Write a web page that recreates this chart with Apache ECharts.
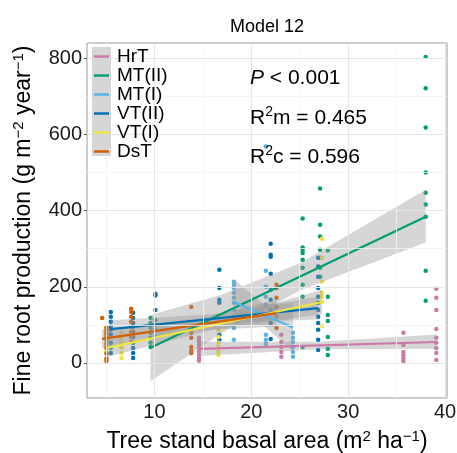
<!DOCTYPE html>
<html>
<head>
<meta charset="utf-8">
<script src="https://cdn.jsdelivr.net/npm/echarts@6/dist/echarts.min.js"></script>
<style>
  html, body { margin: 0; padding: 0; background: #fff; }
  #chart { width: 457px; height: 453px; }
</style>
</head>
<body>
<div id="chart"></div>
<script>
// groups, in legend order
const groups = ['HrT', 'MT(II)', 'MT(I)', 'VT(II)', 'VT(I)', 'DsT'];
const groupColors = ['#CC79A7', '#009E73', '#56B4E9', '#0072B2', '#F0E442', '#D55E00'];

// observed points: one x per stand, y values measured in that stand
const hrtX = [14.6, 23.1, 35.7, 39.1];
const hrtY = [[66, 58, 50, 40, 30, 20, 12, 6], [74, 55, 42, 29, 16], [79, 47, 29, 21, 13, 5],
  [195, 171, 139, 89, 66, 53, 39, 26, 8]];
const mt2X = [9.6, 25.3, 27.1, 27.9, 38.0];
const mt2Y = [[118, 105, 92, 79, 66, 53, 42], [379, 303, 297, 289, 271, 250, 205, 174, 42],
  [458, 363, 332, 297, 276, 250, 226], [295, 174, 126, 110, 68, 37, 21],
  [803, 721, 618, 500, 447, 416, 384, 242, 163]];
const mt1X = [18.2, 21.5, 24.3];
const mt1Y = [[213, 205, 197, 184, 171, 158, 139, 121, 92, 61], [568, 242, 200, 174, 153, 74, 61, 50],
  [79, 66, 55, 42, 29, 16]];
const vt2X = [5.5, 7.8, 10.1, 16.7, 22.0, 26.9];
const vt2Y = [[134, 121, 108, 95, 87, 75, 53, 40, 26], [132, 118, 105, 95, 82, 68, 53, 39, 26, 13],
  [182, 177, 139, 113, 100, 87, 68], [245, 197, 166, 158, 74, 61],
  [313, 284, 279, 234, 192, 166, 139, 105, 63], [276, 253, 226, 197, 174, 158, 139, 121, 105, 87, 61, 34]];
const vt1X = [5.0, 6.6, 16.6, 27.3];
const vt1Y = [[95, 85, 75, 62, 50, 40, 30, 8], [79, 66, 53, 40, 26, 13], [126, 105, 87, 68, 53, 42, 30, 21],
  [326, 276, 213, 184, 174, 160, 97]];
const dstX = [4.6, 5.05, 7.6, 13.8, 22.6];
const dstY = [[118], [92, 85, 78, 70, 60, 50, 40, 25, 12, 5], [142, 134, 121, 108, 95, 82, 68, 55],
  [147, 87, 79, 66, 42, 32, 26], [205, 197, 171, 147, 121, 92]];

// fitted lines (start, end)
const fitX = [[14.6, 39.1], [9.6, 38.0], [18.2, 24.3], [5.5, 26.9], [5.0, 27.3], [4.6, 22.6]];
const fitY = [[37, 55], [40, 384], [160, 93], [89, 144], [39, 160], [63, 131]];

// confidence bands
const bandX = [[14.6, 27, 39.1], [9.6, 17, 25, 38.0], [18.2, 21.3, 24.3], [5.5, 16, 26.9], [5.0, 16, 27.3], [4.6, 13, 22.6]];
const bandLow = [[18, 36, 37], [-48, 80, 190, 316], [100, 98, 30], [66, 104, 114], [15, 87, 128], [38, 83, 96]];
const bandHigh = [[56, 56, 75], [126, 180, 262, 455], [220, 154, 157], [112, 128, 174], [63, 111, 192], [88, 107, 166]];

// axis ticks and grid
const xTicks = [10, 20, 30, 40];
const xMinor = [5, 15, 25, 35];
const yTicks = [0, 200, 400, 600, 800];
const yMinor = [100, 300, 500, 700];

const pointSets = [[hrtX, hrtY], [mt2X, mt2Y], [mt1X, mt1Y], [vt2X, vt2Y], [vt1X, vt1Y], [dstX, dstY]];

const FONT = '"Liberation Sans", Arial, Helvetica, sans-serif';

function flatten(xs, ys) {
  const out = [];
  xs.forEach((x, i) => ys[i].forEach(y => out.push([x, y])));
  return out;
}

function gridLines(xs, ys, color, width) {
  return {
    type: 'line', data: [], z: 1, silent: true,
    markLine: {
      silent: true, symbol: 'none', animation: false,
      label: { show: false },
      lineStyle: { color: color, width: width, type: 'solid' },
      emphasis: { disabled: true },
      data: xs.map(v => ({ xAxis: v })).concat(ys.map(v => ({ yAxis: v })))
    }
  };
}

const chart = echarts.init(document.getElementById('chart'), null, { renderer: 'canvas' });

const series = [gridLines(xMinor, yMinor, '#f2f2f2', 0.8), gridLines(xTicks, yTicks, '#e6e6e6', 1.2)];

groups.forEach((name, g) => {
  series.push({
    name: name, type: 'scatter', z: 2,
    symbolSize: 4.5,
    itemStyle: { color: groupColors[g], opacity: 1 },
    data: flatten(pointSets[g][0], pointSets[g][1])
  });
});

series.push({
  type: 'custom', z: 3, silent: true,
  data: groups.map((_, g) => [g, 0]),
  renderItem: function (params, api) {
    const g = api.value(0);
    const pts = [];
    for (let i = 0; i < bandX[g].length; i++) pts.push(api.coord([bandX[g][i], bandHigh[g][i]]));
    for (let i = bandX[g].length - 1; i >= 0; i--) pts.push(api.coord([bandX[g][i], bandLow[g][i]]));
    return { type: 'polygon', shape: { points: pts }, style: { fill: 'rgba(153,153,153,0.4)' } };
  }
});

groups.forEach((name, g) => {
  series.push({
    name: name, type: 'line', z: 4,
    showSymbol: false, silent: true,
    lineStyle: { color: groupColors[g], width: 2.2 },
    itemStyle: { color: groupColors[g] },
    data: fitX[g].map((x, i) => [x, fitY[g][i]])
  });
});

const sup = { fontSize: 15, verticalAlign: 'top', lineHeight: 14, fontFamily: FONT, color: '#000' };

chart.setOption({
  animation: false,
  backgroundColor: '#fff',
  title: {
    text: 'Model 12', left: 230, top: 18, padding: 0,
    textStyle: { fontSize: 18, fontWeight: 'normal', color: '#000', fontFamily: FONT }
  },
  grid: {
    left: 87, top: 43, width: 360, height: 355,
    containLabel: false, outerBoundsMode: 'none',
    show: true, borderColor: '#9a9a9a', borderWidth: 1, backgroundColor: '#fff'
  },
  legend: {
    orient: 'vertical', left: 94, top: 47, padding: 0, z: 7,
    itemWidth: 15, itemHeight: 2.5, itemGap: 0,
    icon: 'rect', selectedMode: false,
    textStyle: { fontSize: 19, lineHeight: 18, color: '#000', fontFamily: FONT, padding: [0, 0, 0, 3] },
    data: groups
  },
  xAxis: {
    type: 'value', min: 3.04, max: 40.2,
    name: '{n|Tree stand basal area (m}{s|2}{n| ha}{s|\u22121}{n|)}',
    nameLocation: 'middle', nameGap: 31,
    nameTextStyle: {
      rich: { n: { fontSize: 23, lineHeight: 26, fontFamily: FONT, color: '#000' }, s: sup }
    },
    axisLine: { show: false },
    splitLine: { show: false },
    axisTick: { show: true, length: 3, customValues: xTicks, lineStyle: { color: '#555' } },
    axisLabel: { customValues: xTicks, fontSize: 20, margin: 4, color: '#1a1a1a', fontFamily: FONT }
  },
  yAxis: {
    type: 'value', min: -92, max: 840,
    name: '{n|Fine root production (g m}{s|\u22122}{n| year}{s|\u22121}{n|)}',
    nameLocation: 'middle', nameGap: 50, nameRotate: 90,
    nameTextStyle: {
      rich: { n: { fontSize: 23, lineHeight: 26, fontFamily: FONT, color: '#000' }, s: sup }
    },
    axisLine: { show: false },
    splitLine: { show: false },
    axisTick: { show: true, length: 3, customValues: yTicks, lineStyle: { color: '#555' } },
    axisLabel: { customValues: yTicks, fontSize: 20, margin: 5, color: '#1a1a1a', fontFamily: FONT }
  },
  graphic: [
    // legend box and grey key column
    { type: 'rect', left: 89, top: 45, z: 5, shape: { width: 84, height: 113 }, style: { fill: '#fff' } },
    { type: 'rect', left: 92, top: 47, z: 6, shape: { width: 19, height: 109 }, style: { fill: '#d6d6d6' } },
    {
      type: 'text', left: 250, top: 68, z: 10,
      style: {
        text: '{i|P}{n| < 0.001}',
        rich: {
          i: { fontSize: 21, fontStyle: 'italic', fontFamily: FONT, fill: '#000' },
          n: { fontSize: 21, fontFamily: FONT, fill: '#000' }
        }
      }
    },
    {
      type: 'text', left: 250, top: 105, z: 10,
      style: {
        text: '{n|R}{s|2}{n|m = 0.465}',
        rich: {
          n: { fontSize: 21, lineHeight: 26, fontFamily: FONT, fill: '#000' },
          s: { fontSize: 14, lineHeight: 14, verticalAlign: 'top', fontFamily: FONT, fill: '#000' }
        }
      }
    },
    {
      type: 'text', left: 250, top: 144, z: 10,
      style: {
        text: '{n|R}{s|2}{n|c = 0.596}',
        rich: {
          n: { fontSize: 21, lineHeight: 26, fontFamily: FONT, fill: '#000' },
          s: { fontSize: 14, lineHeight: 14, verticalAlign: 'top', fontFamily: FONT, fill: '#000' }
        }
      }
    }
  ],
  series: series
});
</script>
</body>
</html>
